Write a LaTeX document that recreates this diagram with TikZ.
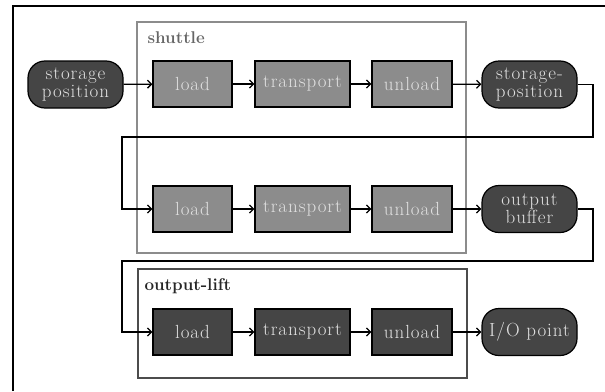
\documentclass[tikz,border=0pt]{standalone}
\usepackage{fontspec}
\setmainfont{Latin Modern Roman}
\newfontfamily\spacedfont[LetterSpace=5]{Latin Modern Roman}
\usetikzlibrary{arrows.meta}
\begin{document}
\begin{tikzpicture}[x=1pt,y=-1pt,
  txt/.style={font=\spacedfont\fontsize{19}{18}\selectfont, text=white!88!black, align=center},
  proc/.style={txt, draw=black, line width=1.3pt, minimum height=46pt, inner sep=0pt},
  light/.style={proc, fill=black!45},
  dark/.style={proc, fill=black!73},
  term/.style={txt, draw=black, line width=1.2pt, fill=black!73, rounded corners=17pt, minimum width=95pt, minimum height=47pt, inner sep=0pt},
  flow/.style={line width=1.3pt, -{Straight Barb[length=4pt,width=8pt,line width=1.3pt]}},
  lbl/.style={font=\fontsize{17}{19}\selectfont\bfseries, anchor=west}
]
\useasboundingbox (0,0) rectangle (605,391);
\fill[white] (0,0) rectangle (605,391);
% frame
\draw[line width=2pt] (13,391) -- (13,6) -- (605,6);
% group boxes
\draw[draw=black!45, line width=2pt] (137,22) rectangle (466,253);
\node[lbl, text=black!60] (lshuttle) at (144,38) {shuttle};
\draw[draw=black!70, line width=2.4pt] (138,269) rectangle (467,378);
\node[lbl, text=black!85] (llift) at (141,286) {output-lift};
% row 1
\node[term] (sp1) at (75.5,84.5) {storage\\position};
\node[light, minimum width=79pt] (l1) at (192.5,84) {load};
\node[light, minimum width=95pt] (t1) at (302.5,84) {transport};
\node[light, minimum width=80pt] (u1) at (412,84) {unload};
\node[term] (sp2) at (529.5,84.5) {storage-\\position};
% row 2
\node[light, minimum width=79pt] (l2) at (192.5,209) {load};
\node[light, minimum width=95pt] (t2) at (302.5,209) {transport};
\node[light, minimum width=80pt] (u2) at (412,209) {unload};
\node[term] (ob) at (529.5,209) {output\\buffer};
% row 3
\node[dark, minimum width=79pt] (l3) at (192.5,332) {load};
\node[dark, minimum width=95pt] (t3) at (302.5,332) {transport};
\node[dark, minimum width=80pt] (u3) at (412,332) {unload};
\node[term] (io) at (529.5,332) {I/O point};
% coordinates for returns
\coordinate (r1a) at (593,84.5);
\coordinate (r1b) at (593,137);
\coordinate (r1c) at (122,137);
\coordinate (r1d) at (122,209);
\coordinate (r2a) at (593,209);
\coordinate (r2b) at (593,261);
\coordinate (r2c) at (122,261);
\coordinate (r2d) at (122,332);
% connectors
\draw[flow] (sp1) -- (l1);
\draw[flow] (l1) -- (t1);
\draw[flow] (t1) -- (u1);
\draw[flow] (u1) -- (sp2);
\draw[flow] (sp2.east) -- (r1a) -- (r1b) -- (r1c) -- (r1d) -- (l2.west);
\draw[flow] (l2) -- (t2);
\draw[flow] (t2) -- (u2);
\draw[flow] (u2) -- (ob);
\draw[flow] (ob.east) -- (r2a) -- (r2b) -- (r2c) -- (r2d) -- (l3.west);
\draw[flow] (l3) -- (t3);
\draw[flow] (t3) -- (u3);
\draw[flow] (u3) -- (io);
\end{tikzpicture}
\end{document}
